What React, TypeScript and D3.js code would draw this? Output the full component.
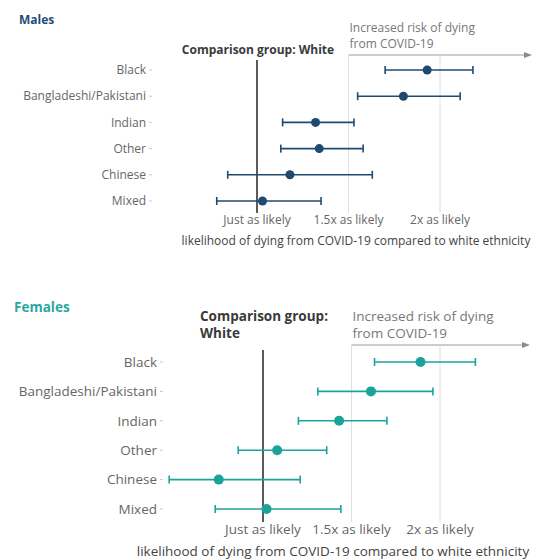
import React from "react";
import * as d3 from "d3";

const categories = ["Black", "Bangladeshi/Pakistani", "Indian", "Other", "Chinese", "Mixed"];
const maleEstimate = [1.93, 1.8, 1.32, 1.34, 1.18, 1.03];
const maleLower = [1.7, 1.55, 1.14, 1.13, 0.84, 0.78];
const maleUpper = [2.18, 2.11, 1.53, 1.58, 1.63, 1.35];
const femaleEstimate = [1.89, 1.61, 1.43, 1.08, 0.75, 1.02];
const femaleLower = [1.63, 1.31, 1.2, 0.86, 0.47, 0.73];
const femaleUpper = [2.2, 1.96, 1.7, 1.36, 1.21, 1.44];
const tickValues = [1, 1.5, 2];
const tickLabels = ["Just as likely", "1.5x as likely", "2x as likely"];
const axisTitle = "likelihood of dying from COVID-19 compared to white ethnicity";

const FONT = "'Open Sans', 'Noto Sans', sans-serif";

type PanelCfg = {
  title: string;
  titleColor: string;
  color: string;
  est: number[];
  lo: number[];
  hi: number[];
  x0: number;
  x2: number;
  yTop: number;
  yBottom: number;
  labelEnd: number;
  fontSize: number;
  titleX: number;
  titleY: number;
  titleSize: number;
  compLines: string[];
  compX: number;
  compY: number;
  compAnchor: "start" | "middle";
  arrowY: number;
  arrowEnd: number;
  riskY: number;
  lineTop: number;
  lineBottom: number;
  tickY: number;
  axisTitleY: number;
  axisTitleX: number;
  dotR: number;
};

function Panel({ c }: { c: PanelCfg }) {
  const x = d3.scaleLinear().domain([1, 2]).range([c.x0, c.x2]);
  const y = d3.scalePoint<string>().domain(categories).range([c.yTop, c.yBottom]);
  const cap = 4;
  return (
    <g fontFamily={FONT}>
      <text x={c.titleX} y={c.titleY} fontSize={c.titleSize} fontWeight={700} fill={c.titleColor}>
        {c.title}
      </text>
      {c.compLines.map((t, i) => (
        <text
          key={i}
          x={c.compX}
          y={c.compY + i * (c.fontSize + 3.5)}
          fontSize={c.fontSize}
          fontWeight={700}
          fill="#3a3a3a"
          textAnchor={c.compAnchor}
        >
          {t}
        </text>
      ))}
      <text x={x(1.5) + 1} y={c.riskY} fontSize={c.fontSize} fill="#777">
        Increased risk of dying
      </text>
      <text x={x(1.5) + 1} y={c.riskY + c.fontSize + 3.5} fontSize={c.fontSize} fill="#777">
        from COVID-19
      </text>
      <line x1={x(1.5)} x2={c.arrowEnd - 6} y1={c.arrowY} y2={c.arrowY} stroke="#9a9a9a" strokeWidth={1} />
      <path
        d={`M${c.arrowEnd},${c.arrowY} L${c.arrowEnd - 8},${c.arrowY - 3} L${c.arrowEnd - 8},${c.arrowY + 3} Z`}
        fill="#8a8a8a"
      />
      {tickValues.slice(1).map((v) => (
        <line key={v} x1={x(v)} x2={x(v)} y1={c.arrowY} y2={c.lineBottom} stroke="#dedede" strokeWidth={1} />
      ))}
      <line x1={x(1)} x2={x(1)} y1={c.lineTop} y2={c.lineBottom} stroke="#5a5a5a" strokeWidth={2} />
      {categories.map((cat, i) => (
        <g key={cat}>
          <text
            x={c.labelEnd}
            y={y(cat)!}
            dy="0.35em"
            fontSize={c.fontSize}
            fill="#666"
            textAnchor="end"
          >
            {cat}
          </text>
          <line x1={c.labelEnd + 3} x2={c.labelEnd + 6} y1={y(cat)!} y2={y(cat)!} stroke="#c8c8c8" strokeWidth={1} />
          <line x1={x(c.lo[i])} x2={x(c.hi[i])} y1={y(cat)!} y2={y(cat)!} stroke={c.color} strokeWidth={1.6} />
          <line x1={x(c.lo[i])} x2={x(c.lo[i])} y1={y(cat)! - cap} y2={y(cat)! + cap} stroke={c.color} strokeWidth={1.6} />
          <line x1={x(c.hi[i])} x2={x(c.hi[i])} y1={y(cat)! - cap} y2={y(cat)! + cap} stroke={c.color} strokeWidth={1.6} />
          <circle cx={x(c.est[i])} cy={y(cat)!} r={c.dotR} fill={c.color} />
        </g>
      ))}
      {tickValues.map((v, i) => (
        <text key={v} x={x(v)} y={c.tickY} fontSize={c.fontSize} fill="#666" textAnchor="middle">
          {tickLabels[i]}
        </text>
      ))}
      <text x={c.axisTitleX} y={c.axisTitleY} fontSize={c.fontSize} fill="#444" textAnchor="middle">
        {axisTitle}
      </text>
    </g>
  );
}

const males: PanelCfg = {
  title: "Males",
  titleColor: "#1f4e79",
  color: "#1f4a70",
  est: maleEstimate,
  lo: maleLower,
  hi: maleUpper,
  x0: 257,
  x2: 440,
  yTop: 70,
  yBottom: 201,
  labelEnd: 146,
  fontSize: 12,
  titleX: 19,
  titleY: 24,
  titleSize: 12,
  compLines: ["Comparison group: White"],
  compX: 258,
  compY: 54,
  compAnchor: "middle",
  arrowY: 55,
  arrowEnd: 532,
  riskY: 32,
  lineTop: 60,
  lineBottom: 213,
  tickY: 224,
  axisTitleY: 245,
  axisTitleX: 356,
  dotR: 4.5,
};

const females: PanelCfg = {
  title: "Females",
  titleColor: "#2aa8a0",
  color: "#1ba39b",
  est: femaleEstimate,
  lo: femaleLower,
  hi: femaleUpper,
  x0: 263,
  x2: 440,
  yTop: 362,
  yBottom: 509,
  labelEnd: 157,
  fontSize: 13.5,
  titleX: 14,
  titleY: 312,
  titleSize: 13.5,
  compLines: ["Comparison group:", "White"],
  compX: 200,
  compY: 321,
  compAnchor: "start",
  arrowY: 345,
  arrowEnd: 530,
  riskY: 321,
  lineTop: 350,
  lineBottom: 522,
  tickY: 534,
  axisTitleY: 556,
  axisTitleX: 333,
  dotR: 5,
};

export default function App() {
  return (
    <svg
      width={533}
      height={560}
      style={{ position: "absolute", left: 0, top: 0, background: "#fff" }}
    >
      <Panel c={males} />
      <Panel c={females} />
    </svg>
  );
}
